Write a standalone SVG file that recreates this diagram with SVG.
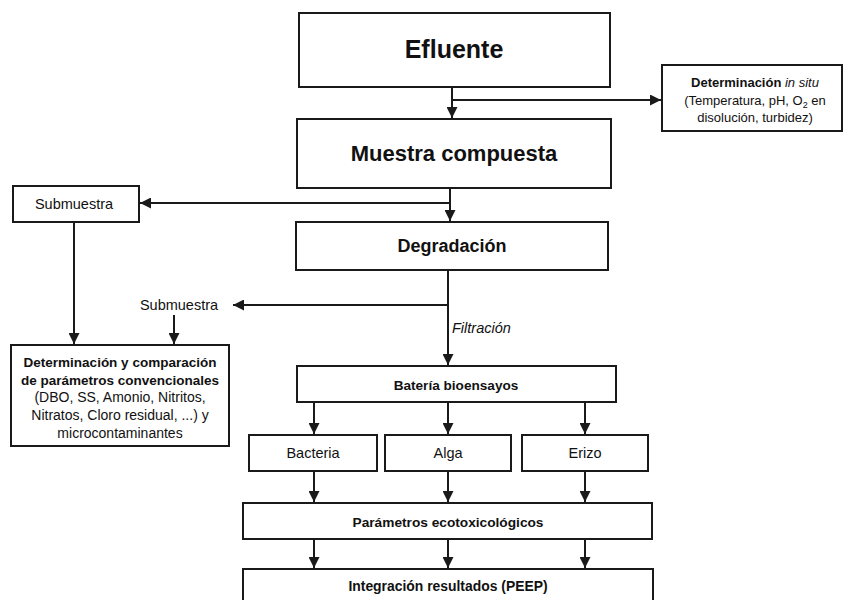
<svg xmlns="http://www.w3.org/2000/svg" width="843" height="600" viewBox="0 0 843 600">
  <style>
    .box { fill: #ffffff; stroke: #1a1a1a; stroke-width: 2; }
    .line { fill: none; stroke: #1a1a1a; stroke-width: 2; }
    .arrow { marker-end: url(#head); }
    text { font-family: "Liberation Sans", Arial, sans-serif; fill: #111111; text-anchor: middle; }
    .b { font-weight: bold; }
    .r { font-weight: normal; }
  </style>
  <defs>
    <marker id="head" viewBox="0 0 10 10" refX="10" refY="5" markerWidth="5.5" markerHeight="5.5" orient="auto" markerUnits="strokeWidth">
      <path d="M0,0 L10,5 L0,10 Z" fill="#1a1a1a"/>
    </marker>
  </defs>
  <rect width="843" height="600" fill="#ffffff"/>

  <!-- connectors -->
  <g id="connectors">
    <path class="line arrow" d="M452,87 V118"/>
    <path class="line arrow" d="M452,100 H661"/>
    <path class="line arrow" d="M450,188 V221"/>
    <path class="line arrow" d="M450,203 H140"/>
    <path class="line arrow" d="M74,222 V344"/>
    <path class="line arrow" d="M448,270 V365"/>
    <path class="line arrow" d="M448,305 H233"/>
    <path class="line arrow" d="M174,315 V344"/>
    <path class="line arrow" d="M314,402 V434"/>
    <path class="line arrow" d="M448,402 V434"/>
    <path class="line arrow" d="M585,402 V434"/>
    <path class="line arrow" d="M314,471 V502"/>
    <path class="line arrow" d="M448,471 V502"/>
    <path class="line arrow" d="M585,471 V502"/>
    <path class="line arrow" d="M314,539 V568"/>
    <path class="line arrow" d="M448,539 V568"/>
    <path class="line arrow" d="M585,539 V568"/>
  </g>

  <g id="efluente">
    <rect class="box" x="299" y="13" width="311" height="74"/>
    <text class="b" x="454" y="58" font-size="25">Efluente</text>
  </g>

  <g id="in-situ">
    <rect class="box" x="662" y="65" width="180" height="66"/>
    <text class="b" x="755" y="87" font-size="13">Determinación <tspan font-style="italic" font-weight="normal">in situ</tspan></text>
    <text class="r" x="755" y="105" font-size="13">(Temperatura, pH, O<tspan font-size="9" dy="3">2</tspan><tspan dy="-3"> en</tspan></text>
    <text class="r" x="755" y="122" font-size="13">disolución, turbidez)</text>
  </g>

  <g id="muestra">
    <rect class="box" x="297" y="119" width="314" height="69"/>
    <text class="b" x="454" y="161" font-size="22">Muestra compuesta</text>
  </g>

  <g id="submuestra-1">
    <rect class="box" x="13" y="186" width="126" height="36"/>
    <text class="r" x="74" y="209" font-size="14.5">Submuestra</text>
  </g>

  <g id="degradacion">
    <rect class="box" x="296" y="222" width="312" height="48"/>
    <text class="b" x="452" y="252" font-size="18">Degradación</text>
  </g>

  <g id="submuestra-2">
    <text class="r" x="179" y="310" font-size="14.5">Submuestra</text>
  </g>

  <g id="filtracion">
    <text class="r" x="452" y="333" font-size="14.5" font-style="italic" text-anchor="start" style="text-anchor:start">Filtración</text>
  </g>

  <g id="parametros-convencionales">
    <rect class="box" x="11" y="345" width="218" height="101"/>
    <text class="b" x="120" y="367" font-size="13.5">Determinación y comparación</text>
    <text class="b" x="120" y="385" font-size="13.5">de parámetros convencionales</text>
    <text class="r" x="120" y="402" font-size="14">(DBO, SS, Amonio, Nitritos,</text>
    <text class="r" x="120" y="420" font-size="14">Nitratos, Cloro residual, ...) y</text>
    <text class="r" x="120" y="438" font-size="14">microcontaminantes</text>
  </g>

  <g id="bateria">
    <rect class="box" x="297" y="366" width="319" height="36"/>
    <text class="b" x="456" y="390" font-size="13.6">Batería bioensayos</text>
  </g>

  <g id="bacteria">
    <rect class="box" x="249" y="435" width="128" height="36"/>
    <text class="r" x="313" y="458" font-size="14.5">Bacteria</text>
  </g>

  <g id="alga">
    <rect class="box" x="385" y="435" width="126" height="36"/>
    <text class="r" x="448" y="458" font-size="14.5">Alga</text>
  </g>

  <g id="erizo">
    <rect class="box" x="522" y="435" width="126" height="36"/>
    <text class="r" x="585" y="458" font-size="14.5">Erizo</text>
  </g>

  <g id="ecotoxicologicos">
    <rect class="box" x="243" y="503" width="409" height="36"/>
    <text class="b" x="448" y="527" font-size="13.7">Parámetros ecotoxicológicos</text>
  </g>

  <g id="integracion">
    <rect class="box" x="243" y="569" width="410" height="40"/>
    <text class="b" x="448" y="591" font-size="13.9">Integración resultados (PEEP)</text>
  </g>
</svg>
